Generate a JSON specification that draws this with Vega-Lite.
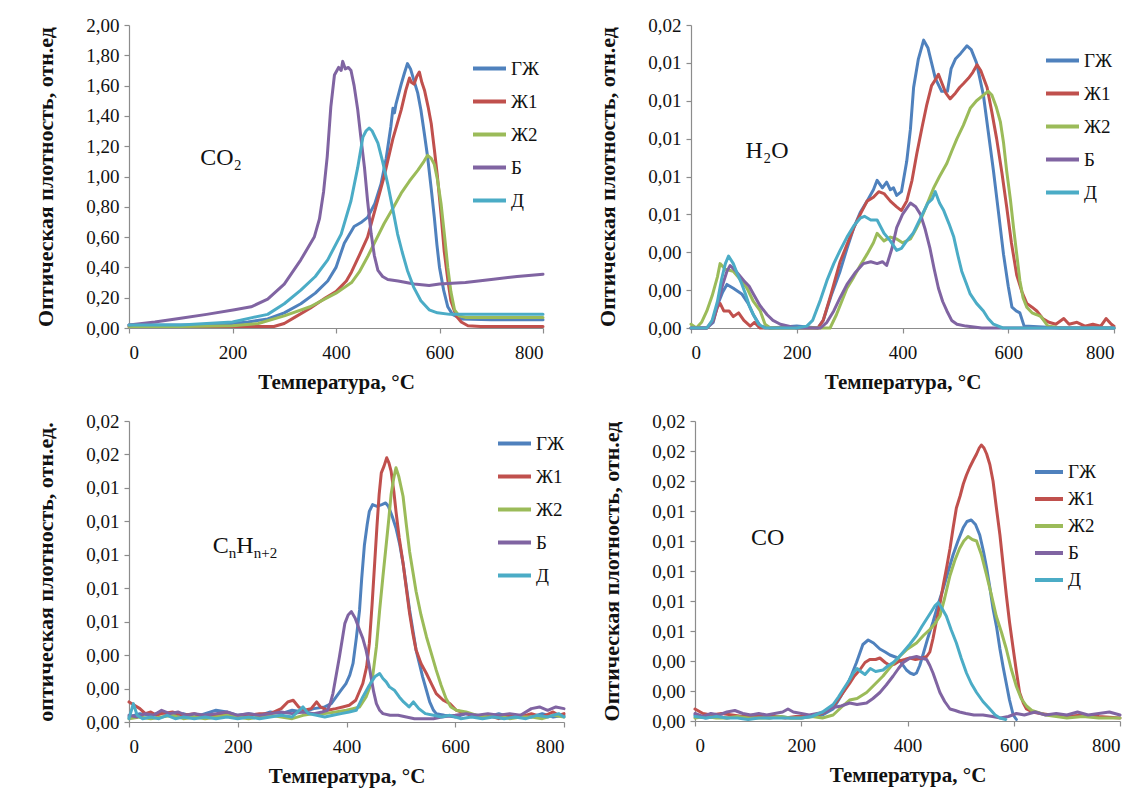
{
"$schema": "https://vega.github.io/schema/vega-lite/v6.json",
"background": "white",
"padding": {"left": 34, "top": 16, "right": 5, "bottom": 5},
"spacing": 20,
"resolve": {"scale": {"color": "independent"}, "legend": {"color": "independent"}},
"config": {
  "view": {"stroke": null},
  "font": "Liberation Serif",
  "axis": {"domainColor": "#8c8c8c", "domainWidth": 1.2, "tickColor": "#8c8c8c", "tickSize": 5, "tickWidth": 1.2, "grid": false, "labelOverlap": false,
    "labelFont": "Liberation Serif", "labelFontSize": 19, "labelColor": "#111", "labelPadding": 5,
    "titleFont": "Liberation Serif", "titleFontSize": 21, "titleFontWeight": "bold", "titleColor": "#111"},
  "axisX": {"labelPadding": 10, "titlePadding": 9, "labelOverlap": false},
  "axisY": {"titlePadding": 28, "titleFontSize": 22, "labelOverlap": false},
  "legend": {"orient": "none", "title": null, "symbolType": "stroke", "symbolStrokeWidth": 4, "symbolSize": 1089, "rowPadding": 4, "padding": 0,
    "labelFont": "Liberation Serif", "labelFontSize": 19, "labelColor": "#111", "labelOffset": 3}
},
"datasets": {
"co2": [
{"s":"ГЖ","t":0,"v":0.02},{"s":"ГЖ","t":50,"v":0.02},{"s":"ГЖ","t":100,"v":0.02},{"s":"ГЖ","t":150,"v":0.02},{"s":"ГЖ","t":200,"v":0.03},{"s":"ГЖ","t":230,"v":0.04},{"s":"ГЖ","t":268,"v":0.06},{"s":"ГЖ","t":300,"v":0.1},{"s":"ГЖ","t":332,"v":0.16},{"s":"ГЖ","t":360,"v":0.23},{"s":"ГЖ","t":384,"v":0.31},{"s":"ГЖ","t":400,"v":0.4},{"s":"ГЖ","t":416,"v":0.56},{"s":"ГЖ","t":435,"v":0.67},{"s":"ГЖ","t":450,"v":0.7},{"s":"ГЖ","t":461,"v":0.73},{"s":"ГЖ","t":475,"v":0.82},{"s":"ГЖ","t":487,"v":0.95},{"s":"ГЖ","t":497,"v":1.12},{"s":"ГЖ","t":506,"v":1.33},{"s":"ГЖ","t":510,"v":1.45},{"s":"ГЖ","t":513,"v":1.42},{"s":"ГЖ","t":516,"v":1.48},{"s":"ГЖ","t":526,"v":1.61},{"s":"ГЖ","t":532,"v":1.68},{"s":"ГЖ","t":538,"v":1.745},{"s":"ГЖ","t":544,"v":1.71},{"s":"ГЖ","t":551,"v":1.63},{"s":"ГЖ","t":558,"v":1.55},{"s":"ГЖ","t":564,"v":1.44},{"s":"ГЖ","t":570,"v":1.3},{"s":"ГЖ","t":577,"v":1.13},{"s":"ГЖ","t":584,"v":0.92},{"s":"ГЖ","t":590,"v":0.73},{"s":"ГЖ","t":595,"v":0.55},{"s":"ГЖ","t":600,"v":0.4},{"s":"ГЖ","t":608,"v":0.25},{"s":"ГЖ","t":616,"v":0.14},{"s":"ГЖ","t":625,"v":0.09},{"s":"ГЖ","t":642,"v":0.06},{"s":"ГЖ","t":700,"v":0.055},{"s":"ГЖ","t":800,"v":0.055},
{"s":"Ж1","t":0,"v":0.01},{"s":"Ж1","t":100,"v":0.01},{"s":"Ж1","t":200,"v":0.01},{"s":"Ж1","t":280,"v":0.01},{"s":"Ж1","t":300,"v":0.03},{"s":"Ж1","t":320,"v":0.07},{"s":"Ж1","t":350,"v":0.13},{"s":"Ж1","t":380,"v":0.2},{"s":"Ж1","t":400,"v":0.24},{"s":"Ж1","t":420,"v":0.31},{"s":"Ж1","t":430,"v":0.37},{"s":"Ж1","t":445,"v":0.48},{"s":"Ж1","t":461,"v":0.6},{"s":"Ж1","t":477,"v":0.8},{"s":"Ж1","t":493,"v":1.0},{"s":"Ж1","t":510,"v":1.25},{"s":"Ж1","t":526,"v":1.44},{"s":"Ж1","t":535,"v":1.57},{"s":"Ж1","t":542,"v":1.65},{"s":"Ж1","t":546,"v":1.62},{"s":"Ж1","t":551,"v":1.61},{"s":"Ж1","t":556,"v":1.66},{"s":"Ж1","t":561,"v":1.69},{"s":"Ж1","t":566,"v":1.62},{"s":"Ж1","t":571,"v":1.57},{"s":"Ж1","t":578,"v":1.46},{"s":"Ж1","t":584,"v":1.35},{"s":"Ж1","t":590,"v":1.18},{"s":"Ж1","t":596,"v":1.0},{"s":"Ж1","t":603,"v":0.75},{"s":"Ж1","t":609,"v":0.51},{"s":"Ж1","t":616,"v":0.32},{"s":"Ж1","t":622,"v":0.18},{"s":"Ж1","t":632,"v":0.08},{"s":"Ж1","t":642,"v":0.04},{"s":"Ж1","t":655,"v":0.015},{"s":"Ж1","t":680,"v":0.01},{"s":"Ж1","t":800,"v":0.01},
{"s":"Ж2","t":0,"v":0.01},{"s":"Ж2","t":100,"v":0.01},{"s":"Ж2","t":200,"v":0.015},{"s":"Ж2","t":250,"v":0.03},{"s":"Ж2","t":300,"v":0.08},{"s":"Ж2","t":350,"v":0.14},{"s":"Ж2","t":400,"v":0.23},{"s":"Ж2","t":430,"v":0.3},{"s":"Ж2","t":445,"v":0.37},{"s":"Ж2","t":461,"v":0.47},{"s":"Ж2","t":477,"v":0.58},{"s":"Ж2","t":493,"v":0.69},{"s":"Ж2","t":510,"v":0.79},{"s":"Ж2","t":526,"v":0.89},{"s":"Ж2","t":542,"v":0.97},{"s":"Ж2","t":558,"v":1.04},{"s":"Ж2","t":570,"v":1.1},{"s":"Ж2","t":577,"v":1.14},{"s":"Ж2","t":584,"v":1.12},{"s":"Ж2","t":590,"v":1.08},{"s":"Ж2","t":596,"v":0.98},{"s":"Ж2","t":603,"v":0.82},{"s":"Ж2","t":610,"v":0.6},{"s":"Ж2","t":616,"v":0.4},{"s":"Ж2","t":622,"v":0.24},{"s":"Ж2","t":629,"v":0.12},{"s":"Ж2","t":638,"v":0.08},{"s":"Ж2","t":650,"v":0.07},{"s":"Ж2","t":800,"v":0.07},
{"s":"Б","t":0,"v":0.02},{"s":"Б","t":50,"v":0.04},{"s":"Б","t":100,"v":0.065},{"s":"Б","t":150,"v":0.09},{"s":"Б","t":204,"v":0.12},{"s":"Б","t":236,"v":0.14},{"s":"Б","t":268,"v":0.19},{"s":"Б","t":300,"v":0.29},{"s":"Б","t":332,"v":0.45},{"s":"Б","t":358,"v":0.6},{"s":"Б","t":368,"v":0.72},{"s":"Б","t":376,"v":0.9},{"s":"Б","t":383,"v":1.13},{"s":"Б","t":390,"v":1.46},{"s":"Б","t":397,"v":1.67},{"s":"Б","t":405,"v":1.72},{"s":"Б","t":410,"v":1.7},{"s":"Б","t":413,"v":1.76},{"s":"Б","t":418,"v":1.71},{"s":"Б","t":424,"v":1.72},{"s":"Б","t":429,"v":1.7},{"s":"Б","t":435,"v":1.6},{"s":"Б","t":442,"v":1.44},{"s":"Б","t":448,"v":1.26},{"s":"Б","t":455,"v":1.06},{"s":"Б","t":461,"v":0.84},{"s":"Б","t":468,"v":0.62},{"s":"Б","t":474,"v":0.48},{"s":"Б","t":481,"v":0.38},{"s":"Б","t":490,"v":0.34},{"s":"Б","t":500,"v":0.32},{"s":"Б","t":520,"v":0.31},{"s":"Б","t":551,"v":0.29},{"s":"Б","t":580,"v":0.28},{"s":"Б","t":600,"v":0.29},{"s":"Б","t":650,"v":0.3},{"s":"Б","t":700,"v":0.32},{"s":"Б","t":750,"v":0.34},{"s":"Б","t":800,"v":0.355},
{"s":"Д","t":0,"v":0.02},{"s":"Д","t":100,"v":0.02},{"s":"Д","t":150,"v":0.03},{"s":"Д","t":200,"v":0.04},{"s":"Д","t":240,"v":0.07},{"s":"Д","t":268,"v":0.09},{"s":"Д","t":300,"v":0.16},{"s":"Д","t":332,"v":0.25},{"s":"Д","t":360,"v":0.34},{"s":"Д","t":384,"v":0.45},{"s":"Д","t":410,"v":0.62},{"s":"Д","t":429,"v":0.84},{"s":"Д","t":442,"v":1.06},{"s":"Д","t":452,"v":1.26},{"s":"Д","t":458,"v":1.3},{"s":"Д","t":464,"v":1.32},{"s":"Д","t":470,"v":1.3},{"s":"Д","t":481,"v":1.22},{"s":"Д","t":490,"v":1.1},{"s":"Д","t":500,"v":0.95},{"s":"Д","t":510,"v":0.78},{"s":"Д","t":519,"v":0.62},{"s":"Д","t":528,"v":0.5},{"s":"Д","t":538,"v":0.38},{"s":"Д","t":550,"v":0.27},{"s":"Д","t":564,"v":0.18},{"s":"Д","t":580,"v":0.12},{"s":"Д","t":596,"v":0.1},{"s":"Д","t":620,"v":0.09},{"s":"Д","t":800,"v":0.09}
],
"h2o": [
{"s":"ГЖ","t":0,"v":0},{"s":"ГЖ","t":30,"v":0},{"s":"ГЖ","t":42,"v":0.0003},{"s":"ГЖ","t":50,"v":0.0012},{"s":"ГЖ","t":60,"v":0.0019},{"s":"ГЖ","t":68,"v":0.0023},{"s":"ГЖ","t":80,"v":0.0021},{"s":"ГЖ","t":96,"v":0.0018},{"s":"ГЖ","t":108,"v":0.0013},{"s":"ГЖ","t":118,"v":0.0007},{"s":"ГЖ","t":131,"v":0.0001},{"s":"ГЖ","t":150,"v":0},{"s":"ГЖ","t":200,"v":0.0001},{"s":"ГЖ","t":240,"v":0},{"s":"ГЖ","t":250,"v":0.0004},{"s":"ГЖ","t":265,"v":0.0017},{"s":"ГЖ","t":282,"v":0.003},{"s":"ГЖ","t":295,"v":0.0042},{"s":"ГЖ","t":308,"v":0.0053},{"s":"ГЖ","t":320,"v":0.0061},{"s":"ГЖ","t":333,"v":0.0067},{"s":"ГЖ","t":345,"v":0.0073},{"s":"ГЖ","t":352,"v":0.0078},{"s":"ГЖ","t":362,"v":0.0074},{"s":"ГЖ","t":370,"v":0.0077},{"s":"ГЖ","t":377,"v":0.0073},{"s":"ГЖ","t":383,"v":0.0074},{"s":"ГЖ","t":389,"v":0.007},{"s":"ГЖ","t":398,"v":0.0072},{"s":"ГЖ","t":408,"v":0.0088},{"s":"ГЖ","t":415,"v":0.0105},{"s":"ГЖ","t":421,"v":0.0127},{"s":"ГЖ","t":430,"v":0.0142},{"s":"ГЖ","t":440,"v":0.0152},{"s":"ГЖ","t":448,"v":0.0148},{"s":"ГЖ","t":455,"v":0.014},{"s":"ГЖ","t":462,"v":0.0132},{"s":"ГЖ","t":474,"v":0.0125},{"s":"ГЖ","t":485,"v":0.0125},{"s":"ГЖ","t":492,"v":0.0137},{"s":"ГЖ","t":500,"v":0.0142},{"s":"ГЖ","t":510,"v":0.0145},{"s":"ГЖ","t":522,"v":0.0149},{"s":"ГЖ","t":530,"v":0.0147},{"s":"ГЖ","t":540,"v":0.014},{"s":"ГЖ","t":553,"v":0.0123},{"s":"ГЖ","t":562,"v":0.0104},{"s":"ГЖ","t":572,"v":0.0083},{"s":"ГЖ","t":582,"v":0.006},{"s":"ГЖ","t":591,"v":0.0039},{"s":"ГЖ","t":600,"v":0.0022},{"s":"ГЖ","t":607,"v":0.0011},{"s":"ГЖ","t":615,"v":0.0009},{"s":"ГЖ","t":622,"v":0.0008},{"s":"ГЖ","t":630,"v":0.0001},{"s":"ГЖ","t":700,"v":0},{"s":"ГЖ","t":800,"v":0},
{"s":"Ж1","t":0,"v":0},{"s":"Ж1","t":30,"v":0},{"s":"Ж1","t":42,"v":0.0004},{"s":"Ж1","t":50,"v":0.0011},{"s":"Ж1","t":55,"v":0.0013},{"s":"Ж1","t":62,"v":0.0009},{"s":"Ж1","t":72,"v":0.0009},{"s":"Ж1","t":80,"v":0.0006},{"s":"Ж1","t":90,"v":0.0008},{"s":"Ж1","t":100,"v":0.0004},{"s":"Ж1","t":112,"v":0.0001},{"s":"Ж1","t":120,"v":0.0003},{"s":"Ж1","t":130,"v":0},{"s":"Ж1","t":240,"v":0},{"s":"Ж1","t":250,"v":0.0004},{"s":"Ж1","t":265,"v":0.0018},{"s":"Ж1","t":282,"v":0.0035},{"s":"Ж1","t":295,"v":0.0044},{"s":"Ж1","t":308,"v":0.0053},{"s":"Ж1","t":320,"v":0.006},{"s":"Ж1","t":333,"v":0.0067},{"s":"Ж1","t":345,"v":0.0069},{"s":"Ж1","t":355,"v":0.0072},{"s":"Ж1","t":365,"v":0.0071},{"s":"Ж1","t":377,"v":0.0067},{"s":"Ж1","t":389,"v":0.0064},{"s":"Ж1","t":398,"v":0.0062},{"s":"Ж1","t":408,"v":0.0067},{"s":"Ж1","t":418,"v":0.0078},{"s":"Ж1","t":427,"v":0.0092},{"s":"Ж1","t":437,"v":0.0106},{"s":"Ж1","t":446,"v":0.0118},{"s":"Ж1","t":455,"v":0.0128},{"s":"Ж1","t":462,"v":0.0131},{"s":"Ж1","t":468,"v":0.0134},{"s":"Ж1","t":475,"v":0.0129},{"s":"Ж1","t":482,"v":0.0124},{"s":"Ж1","t":490,"v":0.0121},{"s":"Ж1","t":500,"v":0.0124},{"s":"Ж1","t":508,"v":0.0127},{"s":"Ж1","t":515,"v":0.0129},{"s":"Ж1","t":525,"v":0.0132},{"s":"Ж1","t":533,"v":0.0135},{"s":"Ж1","t":541,"v":0.0139},{"s":"Ж1","t":548,"v":0.0136},{"s":"Ж1","t":560,"v":0.0127},{"s":"Ж1","t":569,"v":0.0114},{"s":"Ж1","t":578,"v":0.01},{"s":"Ж1","t":588,"v":0.0082},{"s":"Ж1","t":597,"v":0.0064},{"s":"Ж1","t":606,"v":0.0045},{"s":"Ж1","t":616,"v":0.0028},{"s":"Ж1","t":626,"v":0.0019},{"s":"Ж1","t":635,"v":0.0013},{"s":"Ж1","t":645,"v":0.0011},{"s":"Ж1","t":654,"v":0.0009},{"s":"Ж1","t":665,"v":0.0005},{"s":"Ж1","t":677,"v":0.0003},{"s":"Ж1","t":690,"v":0.0002},{"s":"Ж1","t":705,"v":0.0005},{"s":"Ж1","t":715,"v":0.0002},{"s":"Ж1","t":730,"v":0.0003},{"s":"Ж1","t":745,"v":0.0001},{"s":"Ж1","t":760,"v":0.0002},{"s":"Ж1","t":775,"v":0.0001},{"s":"Ж1","t":785,"v":0.0005},{"s":"Ж1","t":795,"v":0.0002},{"s":"Ж1","t":800,"v":0.0001},
{"s":"Ж2","t":0,"v":0.0002},{"s":"Ж2","t":10,"v":0},{"s":"Ж2","t":20,"v":0.0003},{"s":"Ж2","t":30,"v":0.0009},{"s":"Ж2","t":40,"v":0.0017},{"s":"Ж2","t":50,"v":0.0027},{"s":"Ж2","t":55,"v":0.0034},{"s":"Ж2","t":65,"v":0.0031},{"s":"Ж2","t":80,"v":0.003},{"s":"Ж2","t":95,"v":0.0025},{"s":"Ж2","t":106,"v":0.0021},{"s":"Ж2","t":118,"v":0.0014},{"s":"Ж2","t":131,"v":0.0009},{"s":"Ж2","t":140,"v":0.0002},{"s":"Ж2","t":150,"v":0},{"s":"Ж2","t":263,"v":0},{"s":"Ж2","t":275,"v":0.0007},{"s":"Ж2","t":285,"v":0.0014},{"s":"Ж2","t":295,"v":0.0021},{"s":"Ж2","t":308,"v":0.0027},{"s":"Ж2","t":320,"v":0.0033},{"s":"Ж2","t":333,"v":0.0039},{"s":"Ж2","t":345,"v":0.0045},{"s":"Ж2","t":352,"v":0.005},{"s":"Ж2","t":365,"v":0.0046},{"s":"Ж2","t":377,"v":0.0048},{"s":"Ж2","t":389,"v":0.0047},{"s":"Ж2","t":400,"v":0.0045},{"s":"Ж2","t":415,"v":0.0047},{"s":"Ж2","t":425,"v":0.0052},{"s":"Ж2","t":434,"v":0.0057},{"s":"Ж2","t":446,"v":0.0065},{"s":"Ж2","t":459,"v":0.0074},{"s":"Ж2","t":470,"v":0.008},{"s":"Ж2","t":484,"v":0.0087},{"s":"Ж2","t":494,"v":0.0094},{"s":"Ж2","t":503,"v":0.01},{"s":"Ж2","t":515,"v":0.0107},{"s":"Ж2","t":528,"v":0.0116},{"s":"Ж2","t":540,"v":0.012},{"s":"Ж2","t":553,"v":0.0123},{"s":"Ж2","t":562,"v":0.0125},{"s":"Ж2","t":569,"v":0.0123},{"s":"Ж2","t":577,"v":0.0117},{"s":"Ж2","t":585,"v":0.0109},{"s":"Ж2","t":591,"v":0.0098},{"s":"Ж2","t":597,"v":0.0083},{"s":"Ж2","t":604,"v":0.0068},{"s":"Ж2","t":610,"v":0.0053},{"s":"Ж2","t":616,"v":0.0039},{"s":"Ж2","t":622,"v":0.0025},{"s":"Ж2","t":628,"v":0.0016},{"s":"Ж2","t":635,"v":0.0011},{"s":"Ж2","t":645,"v":0.0008},{"s":"Ж2","t":654,"v":0.0007},{"s":"Ж2","t":662,"v":0.0006},{"s":"Ж2","t":667,"v":0.0004},{"s":"Ж2","t":675,"v":0.0001},{"s":"Ж2","t":700,"v":0},{"s":"Ж2","t":800,"v":0},
{"s":"Б","t":0,"v":0},{"s":"Б","t":30,"v":0},{"s":"Б","t":40,"v":0.0003},{"s":"Б","t":50,"v":0.0012},{"s":"Б","t":60,"v":0.0023},{"s":"Б","t":68,"v":0.003},{"s":"Б","t":74,"v":0.0033},{"s":"Б","t":85,"v":0.003},{"s":"Б","t":100,"v":0.0025},{"s":"Б","t":110,"v":0.0022},{"s":"Б","t":118,"v":0.0018},{"s":"Б","t":130,"v":0.0012},{"s":"Б","t":144,"v":0.0007},{"s":"Б","t":155,"v":0.0004},{"s":"Б","t":169,"v":0.0002},{"s":"Б","t":185,"v":0.0001},{"s":"Б","t":200,"v":0},{"s":"Б","t":245,"v":0},{"s":"Б","t":257,"v":0.0003},{"s":"Б","t":270,"v":0.0009},{"s":"Б","t":282,"v":0.0016},{"s":"Б","t":295,"v":0.0023},{"s":"Б","t":310,"v":0.0029},{"s":"Б","t":326,"v":0.0034},{"s":"Б","t":340,"v":0.0035},{"s":"Б","t":352,"v":0.0034},{"s":"Б","t":362,"v":0.0035},{"s":"Б","t":370,"v":0.0033},{"s":"Б","t":380,"v":0.0042},{"s":"Б","t":389,"v":0.0053},{"s":"Б","t":400,"v":0.006},{"s":"Б","t":415,"v":0.0066},{"s":"Б","t":425,"v":0.0064},{"s":"Б","t":434,"v":0.006},{"s":"Б","t":443,"v":0.0052},{"s":"Б","t":452,"v":0.0042},{"s":"Б","t":460,"v":0.0031},{"s":"Б","t":468,"v":0.0021},{"s":"Б","t":476,"v":0.0014},{"s":"Б","t":484,"v":0.0009},{"s":"Б","t":493,"v":0.0004},{"s":"Б","t":503,"v":0.0002},{"s":"Б","t":520,"v":0.0001},{"s":"Б","t":550,"v":0},{"s":"Б","t":800,"v":0},
{"s":"Д","t":0,"v":0},{"s":"Д","t":30,"v":0},{"s":"Д","t":40,"v":0.0004},{"s":"Д","t":50,"v":0.0014},{"s":"Д","t":58,"v":0.0026},{"s":"Д","t":65,"v":0.0034},{"s":"Д","t":71,"v":0.0038},{"s":"Д","t":80,"v":0.0034},{"s":"Д","t":87,"v":0.0029},{"s":"Д","t":95,"v":0.0024},{"s":"Д","t":103,"v":0.0018},{"s":"Д","t":110,"v":0.0012},{"s":"Д","t":118,"v":0.0007},{"s":"Д","t":128,"v":0.0002},{"s":"Д","t":140,"v":0},{"s":"Д","t":200,"v":0},{"s":"Д","t":219,"v":0.0001},{"s":"Д","t":230,"v":0.0004},{"s":"Д","t":245,"v":0.0015},{"s":"Д","t":257,"v":0.0025},{"s":"Д","t":270,"v":0.0034},{"s":"Д","t":282,"v":0.0041},{"s":"Д","t":295,"v":0.0048},{"s":"Д","t":308,"v":0.0054},{"s":"Д","t":320,"v":0.0058},{"s":"Д","t":328,"v":0.0059},{"s":"Д","t":340,"v":0.0057},{"s":"Д","t":352,"v":0.0057},{"s":"Д","t":365,"v":0.005},{"s":"Д","t":377,"v":0.0046},{"s":"Д","t":389,"v":0.0041},{"s":"Д","t":398,"v":0.0042},{"s":"Д","t":408,"v":0.0046},{"s":"Д","t":420,"v":0.005},{"s":"Д","t":434,"v":0.0058},{"s":"Д","t":448,"v":0.0066},{"s":"Д","t":456,"v":0.0068},{"s":"Д","t":462,"v":0.0072},{"s":"Д","t":470,"v":0.0066},{"s":"Д","t":478,"v":0.0062},{"s":"Д","t":488,"v":0.0055},{"s":"Д","t":497,"v":0.0048},{"s":"Д","t":505,"v":0.0038},{"s":"Д","t":512,"v":0.003},{"s":"Д","t":520,"v":0.0024},{"s":"Д","t":528,"v":0.0018},{"s":"Д","t":540,"v":0.0013},{"s":"Д","t":553,"v":0.0009},{"s":"Д","t":562,"v":0.0005},{"s":"Д","t":572,"v":0.0002},{"s":"Д","t":590,"v":0},{"s":"Д","t":800,"v":0}
],
"cnh": [
{"s":"ГЖ","t":0,"v":0.0003},{"s":"ГЖ","t":20,"v":0.0005},{"s":"ГЖ","t":40,"v":0.0004},{"s":"ГЖ","t":60,"v":0.0006},{"s":"ГЖ","t":80,"v":0.0004},{"s":"ГЖ","t":100,"v":0.0005},{"s":"ГЖ","t":120,"v":0.0003},{"s":"ГЖ","t":140,"v":0.0005},{"s":"ГЖ","t":160,"v":0.0007},{"s":"ГЖ","t":180,"v":0.0006},{"s":"ГЖ","t":200,"v":0.0004},{"s":"ГЖ","t":220,"v":0.0005},{"s":"ГЖ","t":240,"v":0.0004},{"s":"ГЖ","t":260,"v":0.0006},{"s":"ГЖ","t":280,"v":0.0005},{"s":"ГЖ","t":300,"v":0.0007},{"s":"ГЖ","t":320,"v":0.0006},{"s":"ГЖ","t":340,"v":0.0008},{"s":"ГЖ","t":360,"v":0.0009},{"s":"ГЖ","t":372,"v":0.0011},{"s":"ГЖ","t":381,"v":0.0015},{"s":"ГЖ","t":390,"v":0.0019},{"s":"ГЖ","t":399,"v":0.0023},{"s":"ГЖ","t":406,"v":0.0028},{"s":"ГЖ","t":412,"v":0.0035},{"s":"ГЖ","t":418,"v":0.005},{"s":"ГЖ","t":424,"v":0.0067},{"s":"ГЖ","t":428,"v":0.0086},{"s":"ГЖ","t":433,"v":0.0106},{"s":"ГЖ","t":438,"v":0.0118},{"s":"ГЖ","t":442,"v":0.0126},{"s":"ГЖ","t":448,"v":0.013},{"s":"ГЖ","t":456,"v":0.0129},{"s":"ГЖ","t":465,"v":0.013},{"s":"ГЖ","t":472,"v":0.0131},{"s":"ГЖ","t":477,"v":0.0129},{"s":"ГЖ","t":484,"v":0.0123},{"s":"ГЖ","t":491,"v":0.0116},{"s":"ГЖ","t":498,"v":0.0106},{"s":"ГЖ","t":504,"v":0.0095},{"s":"ГЖ","t":510,"v":0.0081},{"s":"ГЖ","t":516,"v":0.0067},{"s":"ГЖ","t":522,"v":0.0055},{"s":"ГЖ","t":528,"v":0.0043},{"s":"ГЖ","t":534,"v":0.0035},{"s":"ГЖ","t":540,"v":0.0027},{"s":"ГЖ","t":547,"v":0.0019},{"s":"ГЖ","t":553,"v":0.0012},{"s":"ГЖ","t":560,"v":0.0007},{"s":"ГЖ","t":565,"v":0.0005},{"s":"ГЖ","t":580,"v":0.0004},{"s":"ГЖ","t":600,"v":0.0003},{"s":"ГЖ","t":620,"v":0.0005},{"s":"ГЖ","t":640,"v":0.0004},{"s":"ГЖ","t":660,"v":0.0003},{"s":"ГЖ","t":680,"v":0.0005},{"s":"ГЖ","t":700,"v":0.0003},{"s":"ГЖ","t":720,"v":0.0004},{"s":"ГЖ","t":740,"v":0.0003},{"s":"ГЖ","t":760,"v":0.0005},{"s":"ГЖ","t":780,"v":0.0003},{"s":"ГЖ","t":800,"v":0.0004},
{"s":"Ж1","t":0,"v":0.0012},{"s":"Ж1","t":10,"v":0.001},{"s":"Ж1","t":20,"v":0.0008},{"s":"Ж1","t":30,"v":0.0005},{"s":"Ж1","t":40,"v":0.0006},{"s":"Ж1","t":50,"v":0.0004},{"s":"Ж1","t":60,"v":0.0005},{"s":"Ж1","t":80,"v":0.0006},{"s":"Ж1","t":100,"v":0.0004},{"s":"Ж1","t":120,"v":0.0005},{"s":"Ж1","t":140,"v":0.0003},{"s":"Ж1","t":160,"v":0.0004},{"s":"Ж1","t":180,"v":0.0005},{"s":"Ж1","t":200,"v":0.0003},{"s":"Ж1","t":220,"v":0.0004},{"s":"Ж1","t":240,"v":0.0005},{"s":"Ж1","t":260,"v":0.0005},{"s":"Ж1","t":280,"v":0.0008},{"s":"Ж1","t":292,"v":0.0012},{"s":"Ж1","t":302,"v":0.0013},{"s":"Ж1","t":312,"v":0.0009},{"s":"Ж1","t":322,"v":0.0007},{"s":"Ж1","t":335,"v":0.0008},{"s":"Ж1","t":345,"v":0.0012},{"s":"Ж1","t":352,"v":0.0009},{"s":"Ж1","t":365,"v":0.0007},{"s":"Ж1","t":380,"v":0.0008},{"s":"Ж1","t":393,"v":0.0009},{"s":"Ж1","t":405,"v":0.001},{"s":"Ж1","t":417,"v":0.0013},{"s":"Ж1","t":430,"v":0.0023},{"s":"Ж1","t":437,"v":0.0033},{"s":"Ж1","t":442,"v":0.0047},{"s":"Ж1","t":447,"v":0.007},{"s":"Ж1","t":452,"v":0.0096},{"s":"Ж1","t":456,"v":0.0117},{"s":"Ж1","t":460,"v":0.0136},{"s":"Ж1","t":464,"v":0.0149},{"s":"Ж1","t":469,"v":0.0153},{"s":"Ж1","t":474,"v":0.0158},{"s":"Ж1","t":478,"v":0.0155},{"s":"Ж1","t":482,"v":0.015},{"s":"Ж1","t":487,"v":0.0138},{"s":"Ж1","t":491,"v":0.0126},{"s":"Ж1","t":497,"v":0.011},{"s":"Ж1","t":504,"v":0.0095},{"s":"Ж1","t":510,"v":0.008},{"s":"Ж1","t":516,"v":0.0065},{"s":"Ж1","t":522,"v":0.0053},{"s":"Ж1","t":528,"v":0.0043},{"s":"Ж1","t":537,"v":0.0035},{"s":"Ж1","t":547,"v":0.0029},{"s":"Ж1","t":556,"v":0.0023},{"s":"Ж1","t":565,"v":0.0017},{"s":"Ж1","t":578,"v":0.0013},{"s":"Ж1","t":590,"v":0.0011},{"s":"Ж1","t":602,"v":0.0007},{"s":"Ж1","t":620,"v":0.0005},{"s":"Ж1","t":640,"v":0.0003},{"s":"Ж1","t":660,"v":0.0004},{"s":"Ж1","t":680,"v":0.0002},{"s":"Ж1","t":700,"v":0.0004},{"s":"Ж1","t":720,"v":0.0003},{"s":"Ж1","t":740,"v":0.0005},{"s":"Ж1","t":760,"v":0.0003},{"s":"Ж1","t":780,"v":0.0006},{"s":"Ж1","t":790,"v":0.0004},{"s":"Ж1","t":800,"v":0.0005},
{"s":"Ж2","t":0,"v":0.0002},{"s":"Ж2","t":20,"v":0.0003},{"s":"Ж2","t":40,"v":0.0002},{"s":"Ж2","t":60,"v":0.0003},{"s":"Ж2","t":80,"v":0.0004},{"s":"Ж2","t":100,"v":0.0002},{"s":"Ж2","t":120,"v":0.0003},{"s":"Ж2","t":140,"v":0.0002},{"s":"Ж2","t":160,"v":0.0003},{"s":"Ж2","t":180,"v":0.0004},{"s":"Ж2","t":200,"v":0.0003},{"s":"Ж2","t":220,"v":0.0002},{"s":"Ж2","t":240,"v":0.0003},{"s":"Ж2","t":260,"v":0.0004},{"s":"Ж2","t":280,"v":0.0003},{"s":"Ж2","t":300,"v":0.0002},{"s":"Ж2","t":320,"v":0.0004},{"s":"Ж2","t":340,"v":0.0005},{"s":"Ж2","t":360,"v":0.0005},{"s":"Ж2","t":380,"v":0.0006},{"s":"Ж2","t":400,"v":0.0007},{"s":"Ж2","t":412,"v":0.0008},{"s":"Ж2","t":424,"v":0.0009},{"s":"Ж2","t":436,"v":0.0015},{"s":"Ж2","t":442,"v":0.002},{"s":"Ж2","t":448,"v":0.0027},{"s":"Ж2","t":455,"v":0.0045},{"s":"Ж2","t":461,"v":0.0067},{"s":"Ж2","t":467,"v":0.0087},{"s":"Ж2","t":473,"v":0.0106},{"s":"Ж2","t":478,"v":0.0122},{"s":"Ж2","t":482,"v":0.0136},{"s":"Ж2","t":487,"v":0.0146},{"s":"Ж2","t":491,"v":0.0152},{"s":"Ж2","t":496,"v":0.0147},{"s":"Ж2","t":504,"v":0.0135},{"s":"Ж2","t":510,"v":0.0118},{"s":"Ж2","t":516,"v":0.0102},{"s":"Ж2","t":522,"v":0.009},{"s":"Ж2","t":528,"v":0.0078},{"s":"Ж2","t":537,"v":0.0064},{"s":"Ж2","t":547,"v":0.0051},{"s":"Ж2","t":556,"v":0.0041},{"s":"Ж2","t":565,"v":0.0031},{"s":"Ж2","t":574,"v":0.0022},{"s":"Ж2","t":583,"v":0.0014},{"s":"Ж2","t":592,"v":0.0009},{"s":"Ж2","t":602,"v":0.0007},{"s":"Ж2","t":620,"v":0.0006},{"s":"Ж2","t":640,"v":0.0004},{"s":"Ж2","t":660,"v":0.0003},{"s":"Ж2","t":680,"v":0.0004},{"s":"Ж2","t":700,"v":0.0002},{"s":"Ж2","t":720,"v":0.0003},{"s":"Ж2","t":740,"v":0.0003},{"s":"Ж2","t":760,"v":0.0002},{"s":"Ж2","t":780,"v":0.0004},{"s":"Ж2","t":800,"v":0.0003},
{"s":"Б","t":0,"v":0.0004},{"s":"Б","t":15,"v":0.0003},{"s":"Б","t":30,"v":0.0005},{"s":"Б","t":45,"v":0.0004},{"s":"Б","t":60,"v":0.0007},{"s":"Б","t":75,"v":0.0005},{"s":"Б","t":90,"v":0.0006},{"s":"Б","t":105,"v":0.0004},{"s":"Б","t":120,"v":0.0005},{"s":"Б","t":140,"v":0.0004},{"s":"Б","t":160,"v":0.0005},{"s":"Б","t":180,"v":0.0006},{"s":"Б","t":200,"v":0.0004},{"s":"Б","t":220,"v":0.0005},{"s":"Б","t":240,"v":0.0004},{"s":"Б","t":260,"v":0.0005},{"s":"Б","t":280,"v":0.0006},{"s":"Б","t":300,"v":0.0005},{"s":"Б","t":320,"v":0.0006},{"s":"Б","t":340,"v":0.0005},{"s":"Б","t":355,"v":0.0006},{"s":"Б","t":365,"v":0.0007},{"s":"Б","t":370,"v":0.0011},{"s":"Б","t":375,"v":0.0017},{"s":"Б","t":381,"v":0.0028},{"s":"Б","t":387,"v":0.0039},{"s":"Б","t":393,"v":0.0051},{"s":"Б","t":397,"v":0.0059},{"s":"Б","t":403,"v":0.0064},{"s":"Б","t":409,"v":0.0066},{"s":"Б","t":416,"v":0.0062},{"s":"Б","t":424,"v":0.0055},{"s":"Б","t":430,"v":0.005},{"s":"Б","t":436,"v":0.0043},{"s":"Б","t":441,"v":0.0035},{"s":"Б","t":445,"v":0.0027},{"s":"Б","t":450,"v":0.0018},{"s":"Б","t":455,"v":0.0011},{"s":"Б","t":461,"v":0.0007},{"s":"Б","t":467,"v":0.0005},{"s":"Б","t":480,"v":0.0004},{"s":"Б","t":495,"v":0.0004},{"s":"Б","t":510,"v":0.0003},{"s":"Б","t":525,"v":0.0002},{"s":"Б","t":540,"v":0.0002},{"s":"Б","t":560,"v":0.0002},{"s":"Б","t":575,"v":0.0003},{"s":"Б","t":600,"v":0.0004},{"s":"Б","t":620,"v":0.0005},{"s":"Б","t":640,"v":0.0004},{"s":"Б","t":660,"v":0.0005},{"s":"Б","t":680,"v":0.0004},{"s":"Б","t":700,"v":0.0005},{"s":"Б","t":720,"v":0.0004},{"s":"Б","t":740,"v":0.0008},{"s":"Б","t":755,"v":0.0009},{"s":"Б","t":770,"v":0.0007},{"s":"Б","t":785,"v":0.0009},{"s":"Б","t":800,"v":0.0008},
{"s":"Д","t":0,"v":0.0002},{"s":"Д","t":8,"v":0.0011},{"s":"Д","t":15,"v":0.0004},{"s":"Д","t":25,"v":0.0002},{"s":"Д","t":40,"v":0.0003},{"s":"Д","t":55,"v":0.0002},{"s":"Д","t":70,"v":0.0004},{"s":"Д","t":85,"v":0.0002},{"s":"Д","t":100,"v":0.0003},{"s":"Д","t":120,"v":0.0002},{"s":"Д","t":140,"v":0.0003},{"s":"Д","t":160,"v":0.0002},{"s":"Д","t":180,"v":0.0003},{"s":"Д","t":200,"v":0.0002},{"s":"Д","t":220,"v":0.0003},{"s":"Д","t":240,"v":0.0002},{"s":"Д","t":260,"v":0.0003},{"s":"Д","t":280,"v":0.0004},{"s":"Д","t":300,"v":0.0003},{"s":"Д","t":320,"v":0.0009},{"s":"Д","t":330,"v":0.0005},{"s":"Д","t":345,"v":0.0004},{"s":"Д","t":360,"v":0.0003},{"s":"Д","t":375,"v":0.0004},{"s":"Д","t":390,"v":0.0005},{"s":"Д","t":405,"v":0.0006},{"s":"Д","t":418,"v":0.0007},{"s":"Д","t":430,"v":0.0015},{"s":"Д","t":442,"v":0.0022},{"s":"Д","t":452,"v":0.0027},{"s":"Д","t":461,"v":0.0029},{"s":"Д","t":467,"v":0.0026},{"s":"Д","t":473,"v":0.0024},{"s":"Д","t":479,"v":0.0021},{"s":"Д","t":488,"v":0.0019},{"s":"Д","t":497,"v":0.0015},{"s":"Д","t":505,"v":0.0012},{"s":"Д","t":515,"v":0.0009},{"s":"Д","t":523,"v":0.0012},{"s":"Д","t":533,"v":0.0008},{"s":"Д","t":545,"v":0.0005},{"s":"Д","t":560,"v":0.0004},{"s":"Д","t":575,"v":0.0003},{"s":"Д","t":590,"v":0.0004},{"s":"Д","t":610,"v":0.0002},{"s":"Д","t":630,"v":0.0003},{"s":"Д","t":650,"v":0.0002},{"s":"Д","t":670,"v":0.0003},{"s":"Д","t":690,"v":0.0002},{"s":"Д","t":710,"v":0.0003},{"s":"Д","t":730,"v":0.0002},{"s":"Д","t":750,"v":0.0004},{"s":"Д","t":770,"v":0.0003},{"s":"Д","t":790,"v":0.0005},{"s":"Д","t":800,"v":0.0003}
],
"co": [
{"s":"ГЖ","t":0,"v":0.0004},{"s":"ГЖ","t":20,"v":0.0002},{"s":"ГЖ","t":40,"v":0.0003},{"s":"ГЖ","t":60,"v":0.0002},{"s":"ГЖ","t":80,"v":0.0003},{"s":"ГЖ","t":100,"v":0.0002},{"s":"ГЖ","t":120,"v":0.0003},{"s":"ГЖ","t":140,"v":0.0002},{"s":"ГЖ","t":160,"v":0.0003},{"s":"ГЖ","t":180,"v":0.0002},{"s":"ГЖ","t":200,"v":0.0002},{"s":"ГЖ","t":220,"v":0.0003},{"s":"ГЖ","t":240,"v":0.0004},{"s":"ГЖ","t":260,"v":0.0008},{"s":"ГЖ","t":272,"v":0.0015},{"s":"ГЖ","t":285,"v":0.0023},{"s":"ГЖ","t":295,"v":0.0031},{"s":"ГЖ","t":304,"v":0.0039},{"s":"ГЖ","t":310,"v":0.0045},{"s":"ГЖ","t":316,"v":0.0051},{"s":"ГЖ","t":326,"v":0.0054},{"s":"ГЖ","t":336,"v":0.0052},{"s":"ГЖ","t":348,"v":0.0048},{"s":"ГЖ","t":358,"v":0.0046},{"s":"ГЖ","t":367,"v":0.0044},{"s":"ГЖ","t":382,"v":0.0042},{"s":"ГЖ","t":390,"v":0.0038},{"s":"ГЖ","t":398,"v":0.0034},{"s":"ГЖ","t":405,"v":0.0032},{"s":"ГЖ","t":412,"v":0.0031},{"s":"ГЖ","t":417,"v":0.0032},{"s":"ГЖ","t":423,"v":0.0037},{"s":"ГЖ","t":429,"v":0.0044},{"s":"ГЖ","t":438,"v":0.0055},{"s":"ГЖ","t":448,"v":0.0066},{"s":"ГЖ","t":457,"v":0.0077},{"s":"ГЖ","t":467,"v":0.0088},{"s":"ГЖ","t":476,"v":0.0099},{"s":"ГЖ","t":486,"v":0.0111},{"s":"ГЖ","t":495,"v":0.012},{"s":"ГЖ","t":505,"v":0.0129},{"s":"ГЖ","t":512,"v":0.0133},{"s":"ГЖ","t":520,"v":0.0134},{"s":"ГЖ","t":528,"v":0.0131},{"s":"ГЖ","t":536,"v":0.0124},{"s":"ГЖ","t":543,"v":0.0113},{"s":"ГЖ","t":549,"v":0.0102},{"s":"ГЖ","t":555,"v":0.0089},{"s":"ГЖ","t":561,"v":0.0075},{"s":"ГЖ","t":568,"v":0.0062},{"s":"ГЖ","t":574,"v":0.0048},{"s":"ГЖ","t":580,"v":0.0036},{"s":"ГЖ","t":586,"v":0.0025},{"s":"ГЖ","t":592,"v":0.0014},{"s":"ГЖ","t":599,"v":0.0004},{"s":"ГЖ","t":605,"v":0.0001},
{"s":"Ж1","t":0,"v":0.0008},{"s":"Ж1","t":15,"v":0.0005},{"s":"Ж1","t":30,"v":0.0004},{"s":"Ж1","t":50,"v":0.0005},{"s":"Ж1","t":70,"v":0.0004},{"s":"Ж1","t":90,"v":0.0003},{"s":"Ж1","t":110,"v":0.0004},{"s":"Ж1","t":130,"v":0.0003},{"s":"Ж1","t":150,"v":0.0003},{"s":"Ж1","t":170,"v":0.0002},{"s":"Ж1","t":190,"v":0.0003},{"s":"Ж1","t":210,"v":0.0003},{"s":"Ж1","t":230,"v":0.0004},{"s":"Ж1","t":245,"v":0.0006},{"s":"Ж1","t":260,"v":0.001},{"s":"Ж1","t":275,"v":0.0017},{"s":"Ж1","t":291,"v":0.0025},{"s":"Ж1","t":300,"v":0.003},{"s":"Ж1","t":310,"v":0.0034},{"s":"Ж1","t":320,"v":0.0039},{"s":"Ж1","t":329,"v":0.0041},{"s":"Ж1","t":340,"v":0.0041},{"s":"Ж1","t":348,"v":0.0042},{"s":"Ж1","t":358,"v":0.0039},{"s":"Ж1","t":367,"v":0.0037},{"s":"Ж1","t":376,"v":0.0038},{"s":"Ж1","t":385,"v":0.004},{"s":"Ж1","t":395,"v":0.0041},{"s":"Ж1","t":404,"v":0.0042},{"s":"Ж1","t":415,"v":0.0041},{"s":"Ж1","t":429,"v":0.0042},{"s":"Ж1","t":436,"v":0.0043},{"s":"Ж1","t":442,"v":0.0046},{"s":"Ж1","t":448,"v":0.0055},{"s":"Ж1","t":454,"v":0.0066},{"s":"Ж1","t":461,"v":0.0078},{"s":"Ж1","t":467,"v":0.009},{"s":"Ж1","t":474,"v":0.0103},{"s":"Ж1","t":480,"v":0.0115},{"s":"Ж1","t":486,"v":0.0129},{"s":"Ж1","t":492,"v":0.0142},{"s":"Ж1","t":499,"v":0.015},{"s":"Ж1","t":505,"v":0.0158},{"s":"Ж1","t":511,"v":0.0164},{"s":"Ж1","t":517,"v":0.0169},{"s":"Ж1","t":524,"v":0.0174},{"s":"Ж1","t":530,"v":0.0178},{"s":"Ж1","t":535,"v":0.0182},{"s":"Ж1","t":539,"v":0.0184},{"s":"Ж1","t":544,"v":0.0182},{"s":"Ж1","t":549,"v":0.0178},{"s":"Ж1","t":555,"v":0.0171},{"s":"Ж1","t":561,"v":0.016},{"s":"Ж1","t":567,"v":0.0143},{"s":"Ж1","t":574,"v":0.0124},{"s":"Ж1","t":580,"v":0.0104},{"s":"Ж1","t":586,"v":0.0084},{"s":"Ж1","t":592,"v":0.0066},{"s":"Ж1","t":599,"v":0.0048},{"s":"Ж1","t":605,"v":0.0033},{"s":"Ж1","t":611,"v":0.0019},{"s":"Ж1","t":618,"v":0.0012},{"s":"Ж1","t":624,"v":0.0008},{"s":"Ж1","t":635,"v":0.0006},{"s":"Ж1","t":650,"v":0.0005},{"s":"Ж1","t":670,"v":0.0004},{"s":"Ж1","t":700,"v":0.0003},{"s":"Ж1","t":730,"v":0.0004},{"s":"Ж1","t":760,"v":0.0003},{"s":"Ж1","t":800,"v":0.0002},
{"s":"Ж2","t":0,"v":0.0002},{"s":"Ж2","t":20,"v":0.0003},{"s":"Ж2","t":40,"v":0.0002},{"s":"Ж2","t":60,"v":0.0002},{"s":"Ж2","t":80,"v":0.0003},{"s":"Ж2","t":100,"v":0.0002},{"s":"Ж2","t":120,"v":0.0002},{"s":"Ж2","t":140,"v":0.0002},{"s":"Ж2","t":160,"v":0.0003},{"s":"Ж2","t":180,"v":0.0002},{"s":"Ж2","t":200,"v":0.0002},{"s":"Ж2","t":220,"v":0.0003},{"s":"Ж2","t":240,"v":0.0002},{"s":"Ж2","t":260,"v":0.0004},{"s":"Ж2","t":275,"v":0.0009},{"s":"Ж2","t":291,"v":0.0014},{"s":"Ж2","t":305,"v":0.0015},{"s":"Ж2","t":323,"v":0.0019},{"s":"Ж2","t":340,"v":0.0025},{"s":"Ж2","t":354,"v":0.003},{"s":"Ж2","t":370,"v":0.0037},{"s":"Ж2","t":385,"v":0.0043},{"s":"Ж2","t":400,"v":0.0048},{"s":"Ж2","t":417,"v":0.0052},{"s":"Ж2","t":430,"v":0.0057},{"s":"Ж2","t":442,"v":0.0061},{"s":"Ж2","t":452,"v":0.0065},{"s":"Ж2","t":461,"v":0.007},{"s":"Ж2","t":470,"v":0.0082},{"s":"Ж2","t":480,"v":0.0097},{"s":"Ж2","t":489,"v":0.0107},{"s":"Ж2","t":498,"v":0.0115},{"s":"Ж2","t":506,"v":0.012},{"s":"Ж2","t":514,"v":0.0123},{"s":"Ж2","t":522,"v":0.0121},{"s":"Ж2","t":530,"v":0.012},{"s":"Ж2","t":539,"v":0.0111},{"s":"Ж2","t":549,"v":0.0097},{"s":"Ж2","t":558,"v":0.0084},{"s":"Ж2","t":567,"v":0.007},{"s":"Ж2","t":577,"v":0.0059},{"s":"Ж2","t":586,"v":0.0048},{"s":"Ж2","t":595,"v":0.0035},{"s":"Ж2","t":605,"v":0.0023},{"s":"Ж2","t":614,"v":0.0015},{"s":"Ж2","t":624,"v":0.001},{"s":"Ж2","t":634,"v":0.0007},{"s":"Ж2","t":643,"v":0.0006},{"s":"Ж2","t":660,"v":0.0004},{"s":"Ж2","t":680,"v":0.0003},{"s":"Ж2","t":700,"v":0.0002},{"s":"Ж2","t":730,"v":0.0003},{"s":"Ж2","t":760,"v":0.0002},{"s":"Ж2","t":800,"v":0.0002},
{"s":"Б","t":0,"v":0.0005},{"s":"Б","t":15,"v":0.0003},{"s":"Б","t":30,"v":0.0005},{"s":"Б","t":45,"v":0.0004},{"s":"Б","t":60,"v":0.0006},{"s":"Б","t":75,"v":0.0007},{"s":"Б","t":90,"v":0.0005},{"s":"Б","t":105,"v":0.0004},{"s":"Б","t":120,"v":0.0005},{"s":"Б","t":135,"v":0.0004},{"s":"Б","t":150,"v":0.0005},{"s":"Б","t":165,"v":0.0006},{"s":"Б","t":175,"v":0.0008},{"s":"Б","t":185,"v":0.0006},{"s":"Б","t":200,"v":0.0005},{"s":"Б","t":215,"v":0.0004},{"s":"Б","t":230,"v":0.0005},{"s":"Б","t":245,"v":0.0006},{"s":"Б","t":260,"v":0.0009},{"s":"Б","t":275,"v":0.001},{"s":"Б","t":291,"v":0.0012},{"s":"Б","t":305,"v":0.0011},{"s":"Б","t":323,"v":0.0012},{"s":"Б","t":335,"v":0.0015},{"s":"Б","t":348,"v":0.0019},{"s":"Б","t":360,"v":0.0024},{"s":"Б","t":373,"v":0.003},{"s":"Б","t":383,"v":0.0035},{"s":"Б","t":392,"v":0.0039},{"s":"Б","t":405,"v":0.0042},{"s":"Б","t":417,"v":0.0043},{"s":"Б","t":426,"v":0.0042},{"s":"Б","t":436,"v":0.0041},{"s":"Б","t":442,"v":0.0037},{"s":"Б","t":448,"v":0.0032},{"s":"Б","t":455,"v":0.0025},{"s":"Б","t":461,"v":0.0019},{"s":"Б","t":470,"v":0.0013},{"s":"Б","t":480,"v":0.0008},{"s":"Б","t":490,"v":0.0007},{"s":"Б","t":498,"v":0.0006},{"s":"Б","t":510,"v":0.0005},{"s":"Б","t":525,"v":0.0004},{"s":"Б","t":542,"v":0.0004},{"s":"Б","t":560,"v":0.0003},{"s":"Б","t":575,"v":0.0002},{"s":"Б","t":590,"v":0.0003},{"s":"Б","t":605,"v":0.0005},{"s":"Б","t":620,"v":0.0004},{"s":"Б","t":640,"v":0.0006},{"s":"Б","t":660,"v":0.0004},{"s":"Б","t":680,"v":0.0005},{"s":"Б","t":700,"v":0.0004},{"s":"Б","t":720,"v":0.0006},{"s":"Б","t":740,"v":0.0004},{"s":"Б","t":760,"v":0.0005},{"s":"Б","t":780,"v":0.0006},{"s":"Б","t":800,"v":0.0004},
{"s":"Д","t":0,"v":0.0003},{"s":"Д","t":20,"v":0.0002},{"s":"Д","t":40,"v":0.0003},{"s":"Д","t":60,"v":0.0002},{"s":"Д","t":80,"v":0.0002},{"s":"Д","t":100,"v":0.0001},{"s":"Д","t":120,"v":0.0002},{"s":"Д","t":140,"v":0.0002},{"s":"Д","t":160,"v":0.0002},{"s":"Д","t":180,"v":0.0002},{"s":"Д","t":200,"v":0.0002},{"s":"Д","t":220,"v":0.0003},{"s":"Д","t":240,"v":0.0006},{"s":"Д","t":260,"v":0.0011},{"s":"Д","t":270,"v":0.0016},{"s":"Д","t":279,"v":0.0021},{"s":"Д","t":290,"v":0.0027},{"s":"Д","t":298,"v":0.0032},{"s":"Д","t":305,"v":0.0035},{"s":"Д","t":312,"v":0.0033},{"s":"Д","t":320,"v":0.0031},{"s":"Д","t":330,"v":0.0035},{"s":"Д","t":340,"v":0.0033},{"s":"Д","t":354,"v":0.0034},{"s":"Д","t":364,"v":0.0037},{"s":"Д","t":373,"v":0.0039},{"s":"Д","t":382,"v":0.0042},{"s":"Д","t":392,"v":0.0046},{"s":"Д","t":404,"v":0.0051},{"s":"Д","t":417,"v":0.0057},{"s":"Д","t":427,"v":0.0063},{"s":"Д","t":436,"v":0.0068},{"s":"Д","t":445,"v":0.0073},{"s":"Д","t":452,"v":0.0077},{"s":"Д","t":458,"v":0.0079},{"s":"Д","t":465,"v":0.0075},{"s":"Д","t":473,"v":0.007},{"s":"Д","t":482,"v":0.0061},{"s":"Д","t":492,"v":0.0052},{"s":"Д","t":501,"v":0.0042},{"s":"Д","t":511,"v":0.0032},{"s":"Д","t":520,"v":0.0025},{"s":"Д","t":530,"v":0.0019},{"s":"Д","t":542,"v":0.0013},{"s":"Д","t":555,"v":0.0008},{"s":"Д","t":565,"v":0.0004},{"s":"Д","t":574,"v":0.0002},{"s":"Д","t":585,"v":0.0001}
]
},
"vconcat": [
{"hconcat": [
 {"width": 414, "height": 303, "data": {"name": "co2"},
  "layer": [
   {"mark": {"type": "line", "strokeWidth": 3, "strokeJoin": "round", "strokeCap": "round"},
    "encoding": {
     "x": {"field": "t", "type": "quantitative", "scale": {"domain": [0, 800], "nice": false}, "axis": {"values": [0, 200, 400, 600, 800], "tickCount": 20, "labelOverlap": false, "title": "Температура, °C"}},
     "y": {"field": "v", "type": "quantitative", "scale": {"domain": [0, 2], "nice": false}, "axis": {"values": [0, 0.2, 0.4, 0.6, 0.8, 1, 1.2, 1.4, 1.6, 1.8, 2], "tickCount": 20, "labelOverlap": false, "labelExpr": "replace(format(datum.value, '.2f'), '.', ',')", "title": "Оптическая плотность, отн.ед"}},
     "color": {"field": "s", "type": "nominal", "scale": {"domain": ["ГЖ", "Ж1", "Ж2", "Б", "Д"], "range": ["#4F81BD", "#C0504D", "#9BBB59", "#8064A2", "#4BACC6"]}, "legend": {"legendX": 342, "legendY": 25}}
    }},
   {"data": {"values": [{}]}, "mark": {"type": "text", "fontSize": 24, "font": "Liberation Serif", "color": "#111"},
    "encoding": {"x": {"datum": 178}, "y": {"datum": 1.12}, "text": {"value": "CO₂"}}}
  ]},
 {"width": 423, "height": 303, "data": {"name": "h2o"},
  "layer": [
   {"mark": {"type": "line", "strokeWidth": 3, "strokeJoin": "round", "strokeCap": "round"},
    "encoding": {
     "x": {"field": "t", "type": "quantitative", "scale": {"domain": [0, 800], "nice": false}, "axis": {"values": [0, 200, 400, 600, 800], "tickCount": 20, "labelOverlap": false, "title": "Температура, °C"}},
     "y": {"field": "v", "type": "quantitative", "scale": {"domain": [0, 0.016], "nice": false}, "axis": {"values": [0, 0.002, 0.004, 0.006, 0.008, 0.01, 0.012, 0.014, 0.016], "tickCount": 20, "labelOverlap": false, "labelExpr": "datum.value < 0.005 ? '0,00' : datum.value < 0.015 ? '0,01' : '0,02'", "title": "Оптическая плотность, отн.ед"}},
     "color": {"field": "s", "type": "nominal", "scale": {"domain": ["ГЖ", "Ж1", "Ж2", "Б", "Д"], "range": ["#4F81BD", "#C0504D", "#9BBB59", "#8064A2", "#4BACC6"]}, "legend": {"legendX": 353, "legendY": 17}}
    }},
   {"data": {"values": [{}]}, "mark": {"type": "text", "fontSize": 24, "font": "Liberation Serif", "color": "#111"},
    "encoding": {"x": {"datum": 144}, "y": {"datum": 0.00935}, "text": {"value": "H₂O"}}}
  ]}
 ], "spacing": 148, "bounds": "flush", "resolve": {"scale": {"color": "independent"}, "legend": {"color": "independent"}}},
{"hconcat": [
 {"width": 435, "height": 301, "data": {"name": "cnh"},
  "layer": [
   {"mark": {"type": "line", "strokeWidth": 3, "strokeJoin": "round", "strokeCap": "round"},
    "encoding": {
     "x": {"field": "t", "type": "quantitative", "scale": {"domain": [0, 800], "nice": false}, "axis": {"values": [0, 200, 400, 600, 800], "tickCount": 20, "labelOverlap": false, "title": "Температура, °C"}},
     "y": {"field": "v", "type": "quantitative", "scale": {"domain": [0, 0.018], "nice": false}, "axis": {"values": [0, 0.002, 0.004, 0.006, 0.008, 0.01, 0.012, 0.014, 0.016, 0.018], "tickCount": 20, "labelOverlap": false, "labelExpr": "datum.value < 0.005 ? '0,00' : datum.value < 0.015 ? '0,01' : '0,02'", "title": "оптическая плотность, отн.ед."}},
     "color": {"field": "s", "type": "nominal", "scale": {"domain": ["ГЖ", "Ж1", "Ж2", "Б", "Д"], "range": ["#4F81BD", "#C0504D", "#9BBB59", "#8064A2", "#4BACC6"]}, "legend": {"legendX": 367, "legendY": 4}}
    }},
   {"data": {"values": [{}]}, "mark": {"type": "text", "fontSize": 24, "font": "Liberation Serif", "color": "#111", "align": "left", "baseline": "alphabetic"},
    "encoding": {"x": {"datum": 154}, "y": {"datum": 0.0101}, "text": {"value": "C"}}},
   {"data": {"values": [{}]}, "mark": {"type": "text", "fontSize": 15, "font": "Liberation Serif", "color": "#111", "align": "left", "baseline": "alphabetic", "dx": 16, "dy": 5},
    "encoding": {"x": {"datum": 154}, "y": {"datum": 0.0101}, "text": {"value": "n"}}},
   {"data": {"values": [{}]}, "mark": {"type": "text", "fontSize": 24, "font": "Liberation Serif", "color": "#111", "align": "left", "baseline": "alphabetic", "dx": 23.5},
    "encoding": {"x": {"datum": 154}, "y": {"datum": 0.0101}, "text": {"value": "H"}}},
   {"data": {"values": [{}]}, "mark": {"type": "text", "fontSize": 15, "font": "Liberation Serif", "color": "#111", "align": "left", "baseline": "alphabetic", "dx": 41, "dy": 5},
    "encoding": {"x": {"datum": 154}, "y": {"datum": 0.0101}, "text": {"value": "n+2"}}}
  ]},
 {"width": 425, "height": 300, "data": {"name": "co"},
  "layer": [
   {"mark": {"type": "line", "strokeWidth": 3, "strokeJoin": "round", "strokeCap": "round"},
    "encoding": {
     "x": {"field": "t", "type": "quantitative", "scale": {"domain": [0, 800], "nice": false}, "axis": {"values": [0, 200, 400, 600, 800], "tickCount": 20, "labelOverlap": false, "title": "Температура, °C"}},
     "y": {"field": "v", "type": "quantitative", "scale": {"domain": [0, 0.02], "nice": false}, "axis": {"values": [0, 0.002, 0.004, 0.006, 0.008, 0.01, 0.012, 0.014, 0.016, 0.018, 0.02], "tickCount": 20, "labelOverlap": false, "labelExpr": "datum.value < 0.005 ? '0,00' : datum.value < 0.015 ? '0,01' : '0,02'", "title": "Оптическая плотность, отн.ед"}},
     "color": {"field": "s", "type": "nominal", "scale": {"domain": ["ГЖ", "Ж1", "Ж2", "Б", "Д"], "range": ["#4F81BD", "#C0504D", "#9BBB59", "#8064A2", "#4BACC6"]}, "legend": {"legendX": 338, "legendY": 35, "symbolSize": 784, "rowPadding": 1}}
    }},
   {"data": {"values": [{}]}, "mark": {"type": "text", "fontSize": 24, "font": "Liberation Serif", "color": "#111"},
    "encoding": {"x": {"datum": 137}, "y": {"datum": 0.0122}, "text": {"value": "CO"}}}
  ]}
 ], "spacing": 131, "bounds": "flush", "resolve": {"scale": {"color": "independent"}, "legend": {"color": "independent"}}}
]
}
